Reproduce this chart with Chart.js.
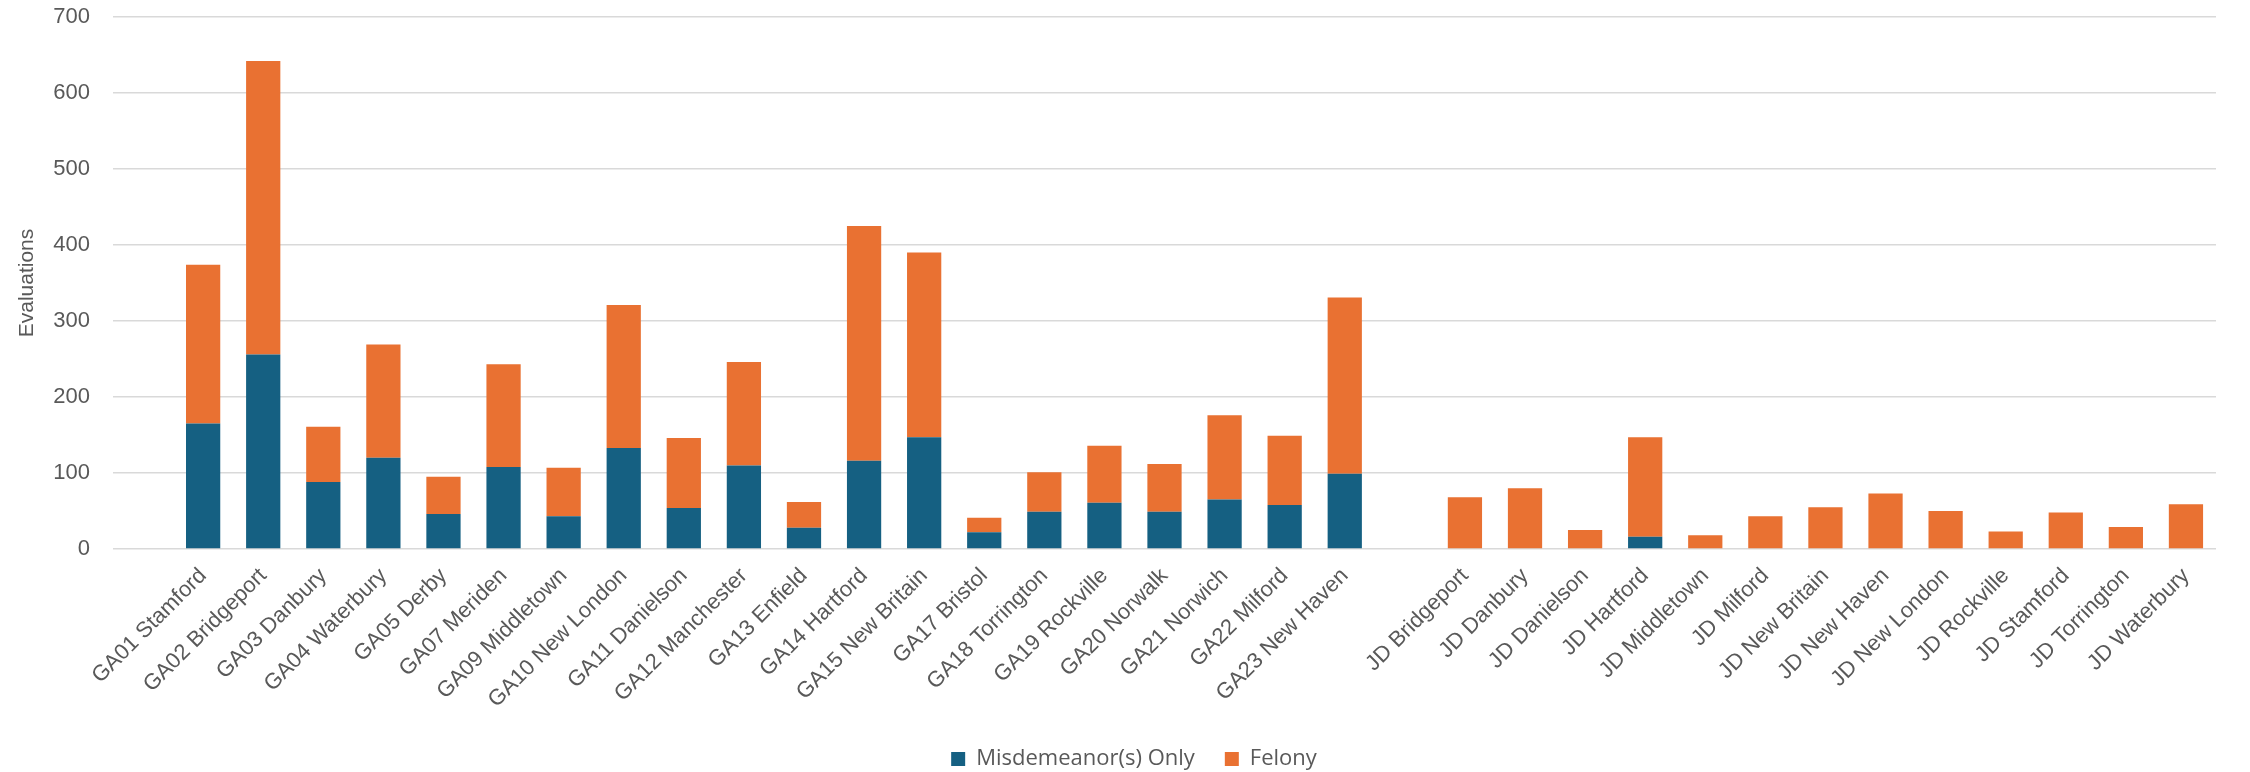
<!DOCTYPE html>
<html>
<head>
<meta charset="utf-8">
<script src="https://cdn.jsdelivr.net/npm/chart.js@4.4.1/dist/chart.umd.min.js"></script>
<style>
  html, body { margin: 0; padding: 0; background: #fff; }
  #myChart { display: block; }
</style>
</head>
<body>
<canvas id="myChart" width="2250" height="772" style="width:2250px;height:772px"></canvas>
<script>
// categories as they sit on the axis (blank slots included)
const labels = [
  '',
  'GA01 Stamford', 'GA02 Bridgeport', 'GA03 Danbury', 'GA04 Waterbury', 'GA05 Derby',
  'GA07 Meriden', 'GA09 Middletown', 'GA10 New London', 'GA11 Danielson', 'GA12 Manchester',
  'GA13 Enfield', 'GA14 Hartford', 'GA15 New Britain', 'GA17 Bristol', 'GA18 Torrington',
  'GA19 Rockville', 'GA20 Norwalk', 'GA21 Norwich', 'GA22 Milford', 'GA23 New Haven',
  '',
  'JD Bridgeport', 'JD Danbury', 'JD Danielson', 'JD Hartford', 'JD Middletown',
  'JD Milford', 'JD New Britain', 'JD New Haven', 'JD New London', 'JD Rockville',
  'JD Stamford', 'JD Torrington', 'JD Waterbury'
];

const misdemeanor = [
  null,
  165, 256, 88, 120, 46,
  108, 43, 133, 54, 110,
  28, 116, 147, 22, 49,
  61, 49, 65, 58, 99,
  0,
  0, 0, 0, 16, 0,
  1, 0, 1, 0, 0,
  0, 0, 0
];

const felony = [
  null,
  209, 386, 73, 149, 49,
  135, 64, 188, 92, 136,
  34, 309, 243, 19, 52,
  75, 63, 111, 91, 232,
  0,
  68, 80, 25, 131, 18,
  42, 55, 72, 50, 23,
  48, 29, 59
];

const yTicks = [0, 100, 200, 300, 400, 500, 600, 700];

const textColor = '#595959';
const gridColor = '#d9d9d9';

// legend: wide gap between items but a short box, centred on the page
const legendTweak = {
  id: 'legendTweak',
  beforeInit(chart) {
    const lg = chart.legend;
    if (!lg) return;
    const fit = lg.fit;
    lg.fit = function() {
      fit.call(this);
      this.height = 54;
    };
  },
  afterLayout(chart) {
    const lg = chart.legend;
    if (!lg) return;
    lg.left += 26;
    lg.right += 26;
  }
};

const data = {
  labels: labels,
  datasets: [
    {
      label: 'Misdemeanor(s) Only',
      data: misdemeanor,
      backgroundColor: '#156082',
      borderWidth: 0
    },
    {
      label: 'Felony',
      data: felony,
      backgroundColor: '#E97132',
      borderWidth: 0
    }
  ]
};

const config = {
  type: 'bar',
  data: data,
  plugins: [legendTweak],
  options: {
    responsive: false,
    animation: false,
    devicePixelRatio: 1,
    layout: {
      padding: { top: 17, right: 34, bottom: 0, left: 0 }
    },
    datasets: {
      bar: { categoryPercentage: 1.0, barPercentage: 0.57 }
    },
    plugins: {
      tooltip: { enabled: false },
      legend: {
        position: 'bottom',
        labels: {
          color: textColor,
          font: { family: 'Open Sans', size: 22 },
          boxWidth: 14,
          boxHeight: 14,
          padding: 30
        }
      }
    },
    scales: {
      x: {
        stacked: true,
        grid: { display: false, drawTicks: false },
        border: { display: false },
        ticks: {
          color: textColor,
          font: { family: 'Liberation Sans', size: 22 },
          maxRotation: 45,
          minRotation: 45,
          autoSkip: false,
          padding: 14
        },
        afterFit: function(scale) { scale.height = 169; }
      },
      y: {
        stacked: true,
        min: 0,
        max: 700,
        afterBuildTicks: function(scale) {
          scale.ticks = yTicks.map(v => ({ value: v }));
        },
        grid: {
          color: gridColor,
          lineWidth: 1.5,
          drawTicks: true,
          tickLength: 20,
          tickColor: 'rgba(0,0,0,0)'
        },
        border: { display: false },
        ticks: {
          color: textColor,
          font: { family: 'Liberation Sans', size: 22 },
          padding: 3
        },
        title: {
          display: true,
          text: 'Evaluations',
          color: textColor,
          font: { family: 'Liberation Sans', size: 21 },
          padding: { top: 15, bottom: 0 }
        },
        afterFit: function(scale) { scale.width = 113; }
      }
    }
  }
};

const myChart = new Chart(document.getElementById('myChart'), config);
</script>
</body>
</html>
